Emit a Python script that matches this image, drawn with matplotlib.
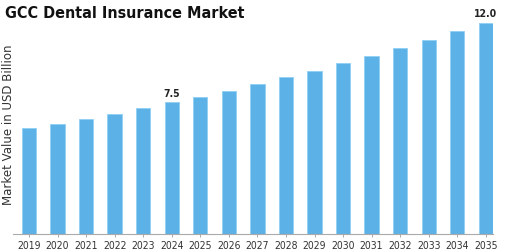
import matplotlib
matplotlib.use("Agg")
import matplotlib.pyplot as plt

years = [str(y) for y in range(2019, 2036)]
values = [6.02, 6.27, 6.55, 6.84, 7.14, 7.5, 7.78, 8.14, 8.5, 8.9, 9.26,
          9.7, 10.11, 10.57, 11.02, 11.52, 12.0]
labelled = {"2024": "7.5", "2035": "12.0"}

fig = plt.figure(figsize=(5.05, 2.53), dpi=100)
ax = fig.add_axes([0.0257, 0.0711, 0.9505, 0.889])

x = list(range(len(years)))
ax.bar(x, values, width=0.5, color="#5cb2e6", edgecolor="#8fd0f5", linewidth=0.6)

for i, (yr, v) in enumerate(zip(years, values)):
    if yr in labelled:
        ax.text(i, v + 0.25, labelled[yr], ha="center", va="bottom",
                fontsize=7.5, fontweight="bold", fontstretch="condensed",
                color="#222222")

ax.set_xlim(-0.56, 16.25)
ax.set_ylim(0, 12.78)
ax.set_xticks(x)
ax.set_xticklabels(years, fontsize=7.5, fontstretch="condensed", color="#333333")
ax.tick_params(axis="x", length=2, width=0.6, color="#999999", pad=2)
ax.set_yticks([])
for s in ["top", "right", "left"]:
    ax.spines[s].set_visible(False)
ax.spines["bottom"].set_color("#aaaaaa")
ax.spines["bottom"].set_linewidth(0.8)

fig.text(0.004, 0.505, "Market Value in USD Billion", rotation=90,
         ha="left", va="center", fontsize=8.5, color="#333333")
fig.text(0.01, 0.945, "GCC Dental Insurance Market", ha="left", va="center",
         fontsize=11.5, fontweight="bold", fontstretch="condensed", color="#111111")

fig.savefig("out.png", dpi=100)
